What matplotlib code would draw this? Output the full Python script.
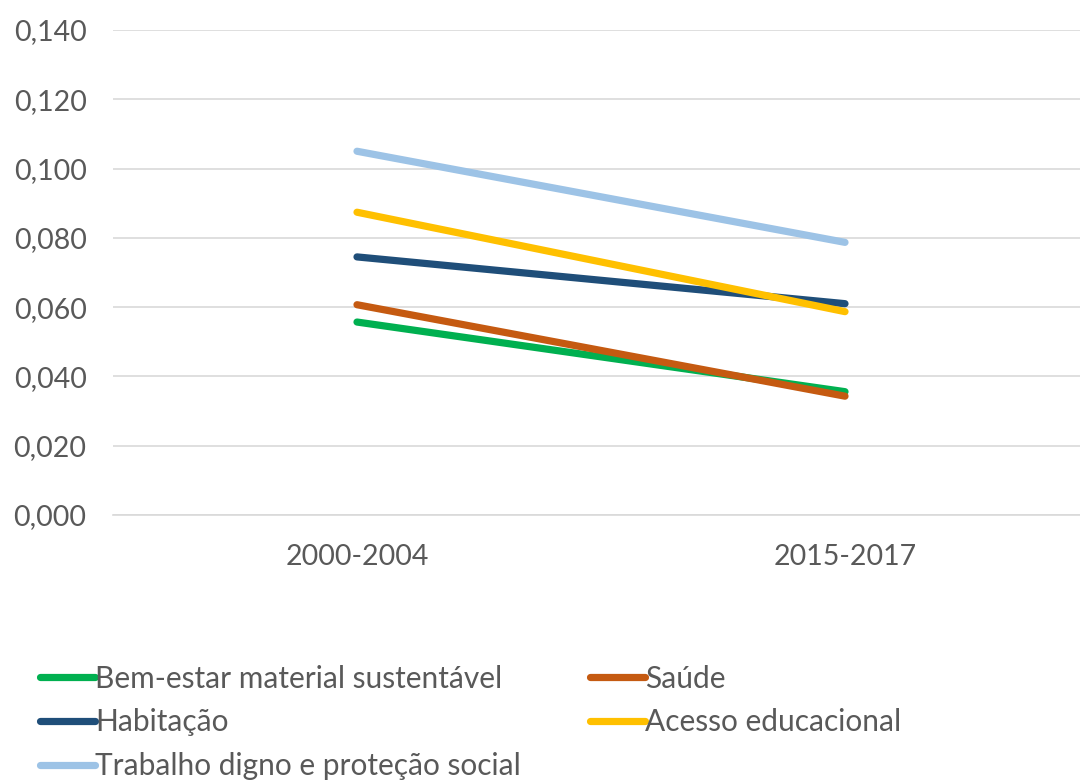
import matplotlib.pyplot as plt

plt.rcParams['font.family'] = ['Lato', 'DejaVu Sans']

periods = ['2000-2004', '2015-2017']
series_names = [
    'Bem-estar material sustentável',
    'Saúde',
    'Habitação',
    'Acesso educacional',
    'Trabalho digno e proteção social',
]
bem_estar = [0.0557, 0.0356]
saude = [0.0607, 0.0343]
habitacao = [0.0745, 0.0610]
acesso = [0.0874, 0.0587]
trabalho = [0.1050, 0.0787]
colors = ['#00B050', '#C55A11', '#1F4E79', '#FFC000', '#9DC3E6']
y_ticks = [0.0, 0.02, 0.04, 0.06, 0.08, 0.10, 0.12, 0.14]

fig = plt.figure(figsize=(10.8, 7.83), dpi=100)
ax = fig.add_axes([113 / 1080, 1 - 515 / 783, 976 / 1080, 485 / 783])

xs = list(range(len(periods)))
lines = {}
for name, vals, col in zip(series_names, [bem_estar, saude, habitacao, acesso, trabalho], colors):
    ln, = ax.plot(xs, vals, color=col, linewidth=5.2, solid_capstyle='round', label=name)
    lines[name] = ln

ax.set_xlim(-0.5, 1.5)
ax.set_ylim(0, 0.14)
ax.set_yticks(y_ticks)
ax.set_yticklabels([f'{v:.3f}'.replace('.', ',') for v in y_ticks])
ax.set_xticks(xs)
ax.set_xticklabels(periods)
ax.grid(axis='y', color='#d9d9d9', linewidth=1.2)
ax.set_axisbelow(True)
for s in ax.spines.values():
    s.set_visible(False)
ax.spines['bottom'].set_visible(True)
ax.spines['bottom'].set_color('#d9d9d9')
ax.spines['bottom'].set_linewidth(1.2)
ax.tick_params(axis='both', length=0, labelsize=20.5, colors='#595959')
ax.tick_params(axis='y', pad=19)
ax.tick_params(axis='x', pad=21)

# legend in row-major order like Excel
order = [series_names[i] for i in (0, 2, 4, 1, 3)]
fig.legend([lines[n] for n in order], order, ncol=2, loc='upper left',
           bbox_to_anchor=(28 / 1080, 1 - 653 / 783), frameon=False,
           fontsize=21.5, labelcolor='#595959', handlelength=1.85, handletextpad=0.0,
           columnspacing=2.3, labelspacing=0.52, borderaxespad=0)

plt.savefig('out.png', dpi=100)
plt.close()
